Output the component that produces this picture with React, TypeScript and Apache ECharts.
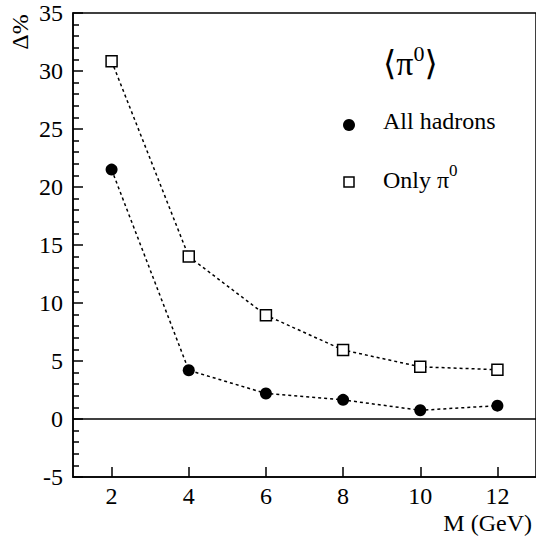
import React, { useEffect, useRef } from "react";
import * as echarts from "echarts";

const masses = [2, 4, 6, 8, 10, 12];
const allHadrons = [21.5, 4.2, 2.2, 1.65, 0.75, 1.15];
const onlyPi0 = [30.85, 14.0, 8.95, 5.95, 4.5, 4.25];
const xTicks = [2, 4, 6, 8, 10, 12];
const seriesNames = ["All hadrons", "Only π0"];

const FONT = "'Liberation Serif', 'DejaVu Serif', serif";

export default function App() {
  const ref = useRef<HTMLDivElement>(null);
  useEffect(() => {
    if (!ref.current) return;
    const chart = echarts.init(ref.current, null, { renderer: "svg" });
    const pairs = (ys: number[]) => masses.map((m, i) => [m, ys[i]]);
    chart.setOption({
      animation: false,
      backgroundColor: "#fff",
      grid: {
        left: 73,
        top: 13,
        width: 464,
        height: 464,
        show: true,
        borderColor: "#000",
        borderWidth: 1.5,
        backgroundColor: "transparent",
      },
      xAxis: {
        type: "value",
        min: 1,
        max: 13,
        splitLine: { show: false },
        axisLine: { onZero: false, lineStyle: { color: "#000", width: 1.5 } },
        axisTick: {
          show: true,
          inside: true,
          length: 10,
          customValues: xTicks,
          lineStyle: { color: "#000", width: 1.5 },
        },
        axisLabel: {
          customValues: xTicks,
          margin: 7,
          color: "#000",
          fontSize: 24,
          fontFamily: FONT,
        },
      },
      yAxis: {
        type: "value",
        min: -5,
        max: 35,
        interval: 5,
        splitLine: { show: false },
        axisLine: { onZero: false, lineStyle: { color: "#000", width: 1.5 } },
        axisTick: { show: true, inside: true, length: 10, lineStyle: { color: "#000", width: 1.5 } },
        minorTick: { show: true, splitNumber: 5, length: 6, lineStyle: { color: "#000", width: 1.5 } },
        axisLabel: { margin: 10, color: "#000", fontSize: 24, fontFamily: FONT },
      },
      series: [
        {
          name: seriesNames[0],
          type: "line",
          data: pairs(allHadrons),
          symbol: "circle",
          symbolSize: 12,
          itemStyle: { color: "#000" },
          lineStyle: { color: "#000", width: 1.5, type: [3, 3] },
          z: 3,
          markLine: {
            silent: true,
            symbol: "none",
            label: { show: false },
            lineStyle: { color: "#000", width: 1.5, type: "solid" },
            data: [{ yAxis: 0 }],
          },
        },
        {
          name: seriesNames[1],
          type: "line",
          data: pairs(onlyPi0),
          symbol: "rect",
          symbolSize: 11,
          itemStyle: { color: "#fff", borderColor: "#000", borderWidth: 1.5 },
          lineStyle: { color: "#000", width: 1.5, type: [3, 3] },
          z: 3,
        },
      ],
      graphic: [
        {
          type: "text",
          x: 20,
          y: 32,
          rotation: Math.PI / 2,
          style: {
            text: "Δ%",
            fontSize: 24,
            fontFamily: FONT,
            fill: "#000",
            align: "center",
            verticalAlign: "middle",
          },
        },
        {
          type: "text",
          x: 532,
          y: 523,
          style: {
            text: "M (GeV)",
            fontSize: 24,
            fontFamily: FONT,
            fill: "#000",
            align: "right",
            verticalAlign: "middle",
          },
        },
        {
          type: "text",
          x: 383,
          y: 42,
          style: {
            text: "{a|⟨π}{s|0}{a|⟩}",
            fill: "#000",
            rich: {
              a: { fontSize: 34, fontFamily: FONT, fill: "#000", lineHeight: 38, verticalAlign: "bottom" },
              s: { fontSize: 22, fontFamily: FONT, fill: "#000", lineHeight: 38, verticalAlign: "top", padding: [0, 0, 16, 0] },
            },
          },
        },
        {
          type: "circle",
          shape: { cx: 349, cy: 125, r: 6 },
          style: { fill: "#000" },
        },
        {
          type: "text",
          x: 383,
          y: 121,
          style: {
            text: seriesNames[0],
            fontSize: 24,
            fontFamily: FONT,
            fill: "#000",
            verticalAlign: "middle",
          },
        },
        {
          type: "rect",
          shape: { x: 344, y: 177, width: 10, height: 10 },
          style: { fill: "#fff", stroke: "#000", lineWidth: 1.5 },
        },
        {
          type: "text",
          x: 383,
          y: 162,
          style: {
            text: "{a|Only π}{s|0}",
            fill: "#000",
            rich: {
              a: { fontSize: 24, fontFamily: FONT, fill: "#000", lineHeight: 30, verticalAlign: "bottom" },
              s: { fontSize: 17, fontFamily: FONT, fill: "#000", lineHeight: 30, verticalAlign: "top", padding: [0, 0, 12, 0] },
            },
          },
        },
      ],
    });
    return () => chart.dispose();
  }, []);
  return (
    <div
      ref={ref}
      style={{ position: "fixed", left: 0, top: 0, width: 536, height: 542 }}
    />
  );
}
